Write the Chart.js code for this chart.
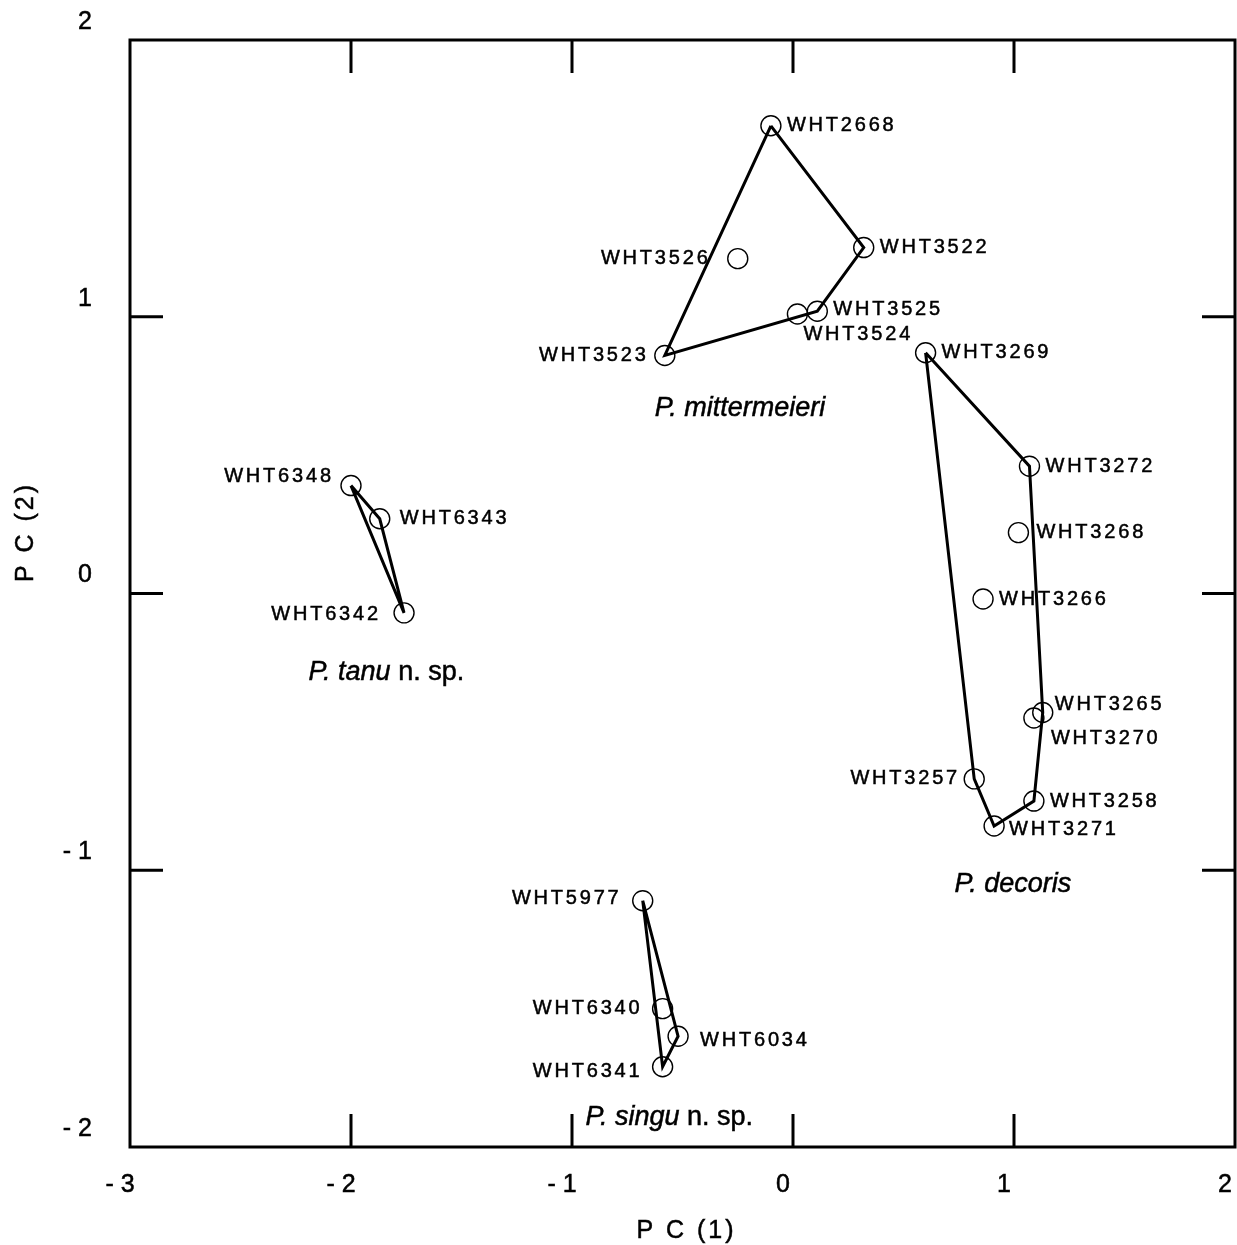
<!DOCTYPE html>
<html>
<head>
<meta charset="utf-8">
<script src="https://cdn.jsdelivr.net/npm/chart.js@4.4.0/dist/chart.umd.min.js"></script>
<style>
  html, body { margin: 0; padding: 0; background: #fff; }
</style>
</head>
<body>
<canvas id="pca" width="1237" height="1245"></canvas>
<script>
// specimen scores on PC(1) / PC(2)
const specimens = ['WHT2668', 'WHT3522', 'WHT3526', 'WHT3525', 'WHT3524', 'WHT3523',
  'WHT3269', 'WHT3272', 'WHT3268', 'WHT3266', 'WHT3265', 'WHT3270', 'WHT3257', 'WHT3258', 'WHT3271',
  'WHT6348', 'WHT6343', 'WHT6342',
  'WHT5977', 'WHT6340', 'WHT6034', 'WHT6341'];
const pc1 = [-0.10, 0.32, -0.25, 0.11, 0.02, -0.58,
  0.60, 1.07, 1.02, 0.86, 1.13, 1.09, 0.82, 1.09, 0.91,
  -2.00, -1.87, -1.76,
  -0.68, -0.59, -0.52, -0.59];
const pc2 = [1.69, 1.25, 1.21, 1.02, 1.01, 0.86,
  0.87, 0.46, 0.22, -0.02, -0.43, -0.45, -0.67, -0.75, -0.84,
  0.39, 0.27, -0.07,
  -1.11, -1.50, -1.60, -1.71];

// convex hull outlines, in drawing order
const hullMittermeieri = ['WHT2668', 'WHT3522', 'WHT3525', 'WHT3523'];
const hullDecoris = ['WHT3269', 'WHT3272', 'WHT3265', 'WHT3258', 'WHT3271', 'WHT3257'];
const hullTanu = ['WHT6348', 'WHT6343', 'WHT6342'];
const hullSingu = ['WHT5977', 'WHT6034', 'WHT6341'];

// group names: italic part, upright part, anchor (PC1, PC2)
const groupNames = ['P. mittermeieri', 'P. tanu', 'P. decoris', 'P. singu'];
const groupSuffix = ['', ' n. sp.', '', ' n. sp.'];
const groupX = [-0.24, -1.84, 0.995, -0.56];
const groupY = [0.67, -0.284, -1.05, -1.895];

// where each specimen label sits: side, dx, dy (pixels)
const labelPlace = {
  WHT2668: ['r', 16, 0], WHT3522: ['r', 16, 0], WHT3526: ['l', -30, 0],
  WHT3525: ['r', 16, -2], WHT3524: ['r', 6, 21], WHT3523: ['l', -19, 0],
  WHT3269: ['r', 16, 0], WHT3272: ['r', 16, 0], WHT3268: ['r', 18, 0],
  WHT3266: ['r', 16, 0], WHT3265: ['r', 12, -8], WHT3270: ['r', 17, 20],
  WHT3257: ['l', -17, 0], WHT3258: ['r', 16, 0], WHT3271: ['r', 15, 4],
  WHT6348: ['l', -20, -9], WHT6343: ['r', 20, 0], WHT6342: ['l', -26, 2],
  WHT5977: ['l', -24, -2], WHT6340: ['l', -23, 0], WHT6034: ['r', 22, 4],
  WHT6341: ['l', -23, 5]
};

const FONT = '"Liberation Sans", Arial, Helvetica, sans-serif';
const TICK = 33;

const pt = name => {
  const i = specimens.indexOf(name);
  return { x: pc1[i], y: pc2[i] };
};
const hullData = hull => hull.concat(hull[0]).map(pt);
const hullSet = hull => ({
  data: hullData(hull),
  showLine: true,
  borderColor: '#000',
  borderWidth: 3,
  borderJoinStyle: 'miter',
  pointRadius: 0,
  pointHoverRadius: 0,
  tension: 0,
  fill: false
});

const tickText = v => (v < 0 ? '- ' + Math.abs(v) : String(v));

// filled text with a thin outline so it reads as heavy as the print
const heavyText = (ctx, s, tx, ty) => {
  ctx.fillText(s, tx, ty);
  ctx.strokeText(s, tx, ty);
};

// box, inner ticks, axis titles and the text labels
const decorPlugin = {
  id: 'decor',
  afterDatasetsDraw(chart) {
    const { ctx, chartArea: a, scales: { x, y } } = chart;
    ctx.save();
    ctx.strokeStyle = '#000';
    ctx.lineWidth = 3;
    ctx.strokeRect(a.left, a.top, a.right - a.left, a.bottom - a.top);
    ctx.beginPath();
    x.ticks.filter(t => t.value > x.min && t.value < x.max).forEach(t => {
      const px = x.getPixelForValue(t.value);
      ctx.moveTo(px, a.top); ctx.lineTo(px, a.top + TICK);
      ctx.moveTo(px, a.bottom); ctx.lineTo(px, a.bottom - TICK);
    });
    y.ticks.filter(t => t.value > y.min && t.value < y.max).forEach(t => {
      const py = y.getPixelForValue(t.value);
      ctx.moveTo(a.left, py); ctx.lineTo(a.left + TICK, py);
      ctx.moveTo(a.right, py); ctx.lineTo(a.right - TICK, py);
    });
    ctx.stroke();

    ctx.fillStyle = '#000';
    ctx.lineWidth = 0.5;
    ctx.textBaseline = 'middle';
    ctx.textAlign = 'left';

    // specimen labels
    const ls = 2.8;
    ctx.font = '20px ' + FONT;
    ctx.letterSpacing = ls + 'px';
    specimens.forEach((name, i) => {
      const [side, dx, dy] = labelPlace[name];
      const px = x.getPixelForValue(pc1[i]);
      const py = y.getPixelForValue(pc2[i]);
      const w = ctx.measureText(name).width - ls;
      const tx = side === 'r' ? px + dx : px + dx - w;
      heavyText(ctx, name, tx, py + dy);
    });

    // group names
    ctx.letterSpacing = '0px';
    groupNames.forEach((g, i) => {
      ctx.font = 'italic 27px ' + FONT;
      const w1 = ctx.measureText(g).width;
      ctx.font = '27px ' + FONT;
      const w2 = ctx.measureText(groupSuffix[i]).width;
      const cx = x.getPixelForValue(groupX[i]);
      const cy = y.getPixelForValue(groupY[i]);
      const sx = cx - (w1 + w2) / 2;
      ctx.font = 'italic 27px ' + FONT;
      heavyText(ctx, g, sx, cy);
      ctx.font = '27px ' + FONT;
      heavyText(ctx, groupSuffix[i], sx + w1, cy);
    });

    // axis titles
    ctx.font = '25px ' + FONT;
    ctx.letterSpacing = '3px';
    ctx.textAlign = 'center';
    heavyText(ctx, 'P C (1)', (a.left + a.right) / 2 + 4, 1231);
    ctx.translate(26, 532);
    ctx.rotate(-Math.PI / 2);
    heavyText(ctx, 'P C (2)', 0, 0);
    ctx.restore();
  }
};

new Chart(document.getElementById('pca'), {
  type: 'scatter',
  data: {
    datasets: [
      {
        data: specimens.map((s, i) => ({ x: pc1[i], y: pc2[i] })),
        pointStyle: 'circle',
        pointRadius: 10,
        pointHoverRadius: 10,
        borderWidth: 1.4,
        borderColor: '#000',
        backgroundColor: 'rgba(0,0,0,0)'
      },
      hullSet(hullMittermeieri),
      hullSet(hullDecoris),
      hullSet(hullTanu),
      hullSet(hullSingu)
    ]
  },
  options: {
    responsive: false,
    animation: false,
    devicePixelRatio: 1,
    layout: { autoPadding: false, padding: { top: 40, right: 2, bottom: 0, left: 0 } },
    plugins: { legend: { display: false }, tooltip: { enabled: false } },
    events: [],
    scales: {
      x: {
        type: 'linear',
        min: -3,
        max: 2,
        grid: { display: false, drawTicks: false },
        border: { display: false },
        ticks: {
          stepSize: 1,
          padding: 23,
          labelOffset: -10,
          color: '#000',
          textStrokeColor: '#000',
          textStrokeWidth: 0.5,
          font: { family: FONT, size: 25 },
          callback: tickText
        },
        afterFit(scale) {
          scale.height = 98;
          scale.paddingLeft = 0;
          scale.paddingRight = 0;
        }
      },
      y: {
        type: 'linear',
        min: -2,
        max: 2,
        grid: { display: false, drawTicks: false },
        border: { display: false },
        ticks: {
          stepSize: 1,
          padding: 38,
          labelOffset: -18,
          color: '#000',
          textStrokeColor: '#000',
          textStrokeWidth: 0.5,
          font: { family: FONT, size: 25 },
          callback: tickText
        },
        afterFit(scale) {
          scale.width = 130;
          scale.paddingTop = 0;
          scale.paddingBottom = 0;
        }
      }
    }
  },
  plugins: [decorPlugin]
});
</script>
</body>
</html>
